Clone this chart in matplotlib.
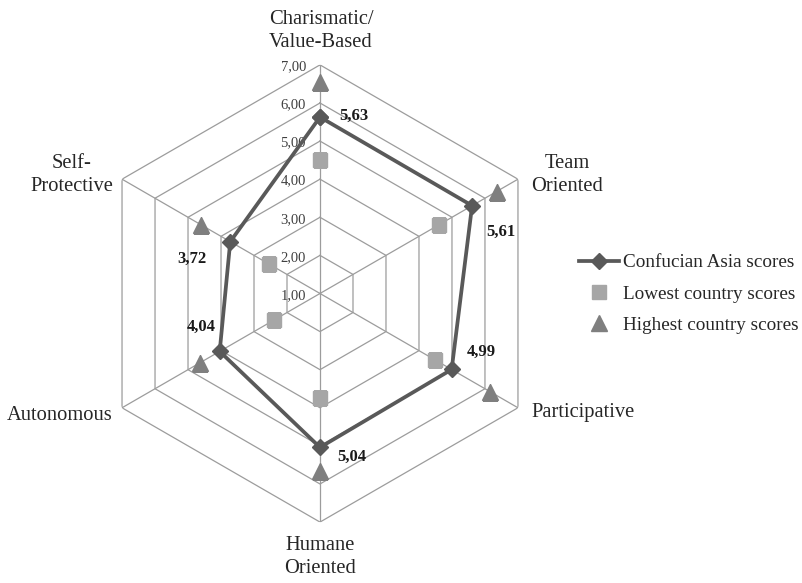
import numpy as np
import matplotlib.pyplot as plt

plt.rcParams['font.family'] = ['Liberation Serif', 'DejaVu Serif']

categories = ["Charismatic/\nValue-Based", "Team\nOriented", "Participative",
              "Humane\nOriented", "Autonomous", "Self-\nProtective"]
confucian = [5.63, 5.61, 4.99, 5.04, 4.04, 3.72]
lowest = [4.5, 4.6, 4.5, 3.75, 2.4, 2.55]
highest = [6.55, 6.35, 6.15, 5.65, 4.65, 4.6]
value_labels = ["5,63", "5,61", "4,99", "5,04", "4,04", "3,72"]
ticks = [1, 2, 3, 4, 5, 6, 7]
tick_labels = ["1,00", "2,00", "3,00", "4,00", "5,00", "6,00", "7,00"]

PX = 0.72  # points per pixel at dpi 100

fig = plt.figure(figsize=(8.03, 5.83), dpi=100)
ax = fig.add_axes([0.1138, 0.1045, 0.5694, 0.7842], projection='polar')
ax.set_theta_zero_location('N')
ax.set_theta_direction(-1)
ax.set_ylim(1, 7)
ax.grid(False)
ax.spines['polar'].set_visible(False)
ax.set_xticks([])
ax.set_yticks([])
ax.patch.set_visible(False)

n = len(categories)
theta = np.arange(n) * 2 * np.pi / n
theta_closed = np.append(theta, theta[0])

grid_col = '#9c9c9c'
# hexagonal rings
for r in ticks[1:]:
    ax.plot(theta_closed, [r] * (n + 1), color=grid_col, lw=0.9, zorder=1)
# spokes
for t in theta:
    ax.plot([t, t], [1, 7], color=grid_col, lw=0.9, zorder=1)

# tick labels along the vertical axis
for r, lab in zip(ticks, tick_labels):
    ax.annotate(lab, xy=(0, r), xytext=(-14 * PX, -2 * PX), textcoords='offset points',
                ha='right', va='center', fontsize=10.5, color='#404040')

conf_closed = confucian + confucian[:1]
ax.plot(theta_closed, conf_closed, color='#595959', lw=2.7, marker='D',
        markersize=8, zorder=4, label='Confucian Asia scores')
ax.plot(theta, lowest, ls='none', marker='s', markersize=10, color='#a6a6a6',
        zorder=3, label='Lowest country scores')
ax.plot(theta, highest, ls='none', marker='^', markersize=11, color='#7f7f7f',
        zorder=3, label='Highest country scores')

# value labels (pixel offsets from each point)
offsets = [(19, 1, 'left'), (14, -26, 'left'), (15, 18, 'left'),
           (17, -9, 'left'), (-4, 25, 'right'), (-24, -17, 'right')]
for t, v, lab, (dx, dy, ha) in zip(theta, confucian, value_labels, offsets):
    ax.annotate(lab, xy=(t, v), xytext=(dx * PX, dy * PX), textcoords='offset points',
                ha=ha, va='center', fontsize=12, fontweight='bold', color='#1a1a1a')

# category labels (pixel positions of label centres)
cat_pos = [(321, 31), (567, 175), (583, 413), (320, 557), (60, 415), (72, 175)]
for lab, (px, py) in zip(categories, cat_pos):
    fig.text(px / 803, 1 - py / 583, lab, ha='center', va='center', fontsize=14.8,
             color='#262626', linespacing=1.25)

leg = fig.legend(loc='center left', bbox_to_anchor=(579 / 803, 1 - 294 / 583),
                 frameon=False, fontsize=13.8, handlelength=2.1, handletextpad=0.2,
                 labelspacing=0.72, borderpad=0, borderaxespad=0)
for txt in leg.get_texts():
    txt.set_color('#262626')

fig.savefig('out.png', dpi=100)
